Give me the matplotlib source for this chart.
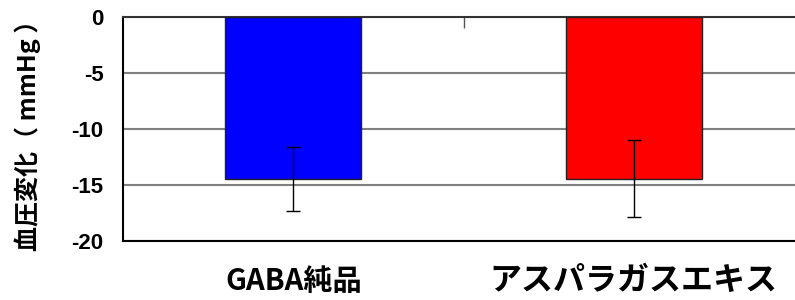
import matplotlib
matplotlib.use("Agg")
import matplotlib.pyplot as plt

categories = ["GABA純品", "アスパラガスエキス"]
values = [-14.45, -14.45]
err_up = [2.85, 3.45]
err_down = [2.9, 3.4]
colors = ["#0000ff", "#ff0000"]
yticks = [0, -5, -10, -15, -20]

plt.rcParams['font.family'] = ['Noto Sans CJK JP', 'DejaVu Sans']

fig = plt.figure(figsize=(7.95, 3.0), dpi=100)
ax = fig.add_axes([123 / 795, 59 / 300, 681 / 795, 224 / 300])

x = list(range(len(categories)))
ax.bar(x, values, width=0.4, color=colors, edgecolor="#222222", linewidth=1.0, zorder=3)
ax.errorbar(x, values, yerr=[err_down, err_up], fmt="none", ecolor="black",
            elinewidth=1.0, capsize=5, capthick=1.0, zorder=4)

ax.set_xlim(-0.5, 1.5)
ax.set_ylim(-20, 0)
ax.set_yticks(yticks)
ax.set_yticklabels([str(v) for v in yticks], fontsize=16, fontweight="bold",
                   family=["Liberation Sans", "DejaVu Sans"])
ax.yaxis.grid(True, color="#808080", linewidth=1.5, zorder=0)
ax.set_axisbelow(True)

ax.set_xticks(x)
ax.set_xticklabels(categories, fontweight="bold", va="center")
for lab, size in zip(ax.get_xticklabels(), [21, 23]):
    lab.set_fontsize(size)
ax.tick_params(axis="x", length=0, pad=29)
ax.tick_params(axis="y", length=0, pad=14)

# divider tick between categories on the top line
ax.set_xticks([0.5], minor=True)
ax.tick_params(axis="x", which="minor", top=True, bottom=False, direction="in",
               length=8, width=1, color="#555555")

ax.spines["top"].set_color("#333333")
ax.spines["top"].set_linewidth(1.5)
ax.spines["right"].set_visible(False)
ax.spines["left"].set_linewidth(1.5)
ax.spines["bottom"].set_linewidth(1.5)

ax.set_ylabel("血圧変化（ mmHg ）", fontsize=18, fontweight="bold", labelpad=22)

fig.savefig("out.png", dpi=100)
